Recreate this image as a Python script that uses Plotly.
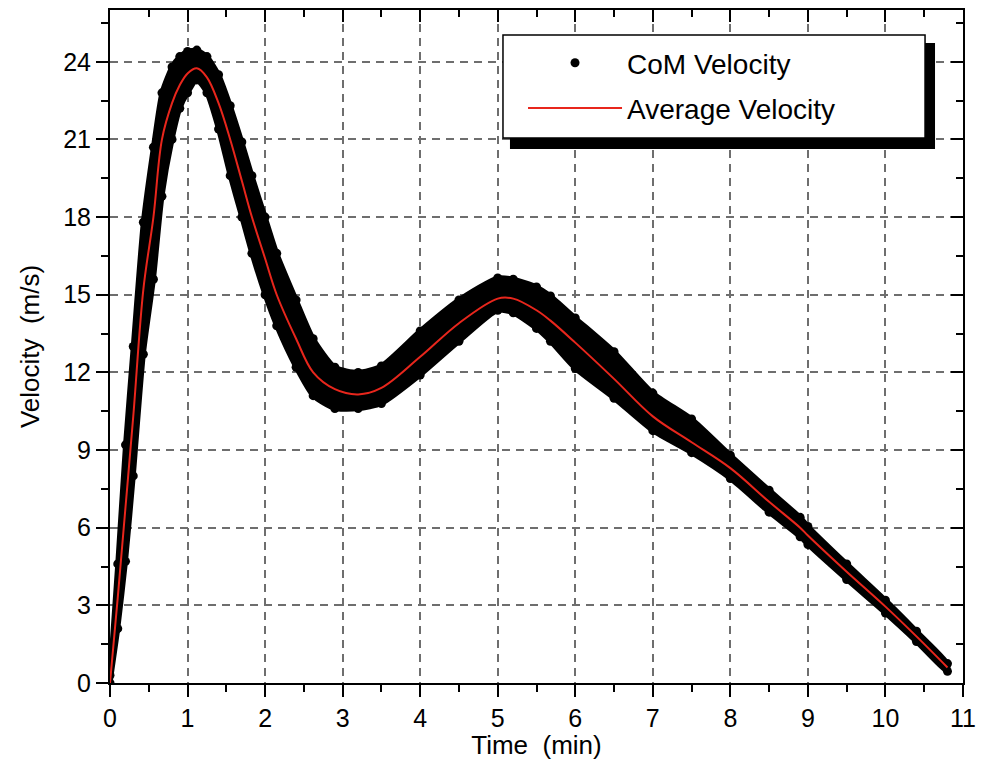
import plotly.graph_objects as go

# time (min) samples
time_min = [0, 0.1, 0.2, 0.3, 0.43, 0.56, 0.67, 0.8, 0.9, 1.0, 1.12, 1.25, 1.4, 1.55,
            1.7, 1.83, 2.0, 2.15, 2.4, 2.62, 2.9, 3.2, 3.5, 4.0, 4.5, 5.0, 5.2, 5.5,
            5.68, 6.0, 6.5, 7.0, 7.5, 8.0, 8.5, 8.9, 9.0, 9.5, 10.0, 10.4, 10.8]

# red average velocity curve (m/s)
avg_velocity = [0, 3.3, 6.8, 10.3, 15.2, 18.0, 21.0, 22.4, 23.1, 23.55, 23.75, 23.4, 22.4,
                21.0, 19.4, 18.0, 16.4, 15.0, 13.3, 12.0, 11.35, 11.15, 11.4, 12.6, 13.9,
                14.85, 14.85, 14.4, 14.0, 13.15, 11.75, 10.3, 9.3, 8.3, 7.0, 6.0, 5.7,
                4.3, 2.95, 1.8, 0.6]

# upper / lower edge of the black CoM velocity scatter band (m/s)
com_upper = [0.3, 4.6, 9.2, 13.0, 17.8, 20.7, 22.8, 23.8, 24.2, 24.4, 24.45, 24.2, 23.5,
             22.3, 20.9, 19.6, 18.0, 16.6, 14.8, 13.3, 12.2, 12.0, 12.25, 13.6, 14.8,
             15.65, 15.6, 15.3, 14.95, 14.1, 12.8, 11.2, 10.2, 8.8, 7.45, 6.4, 6.05,
             4.6, 3.2, 2.0, 0.75]
com_lower = [0, 2.1, 4.7, 8.0, 12.7, 15.6, 18.8, 21.0, 22.2, 22.8, 23.3, 22.8, 21.4,
             19.6, 18.0, 16.6, 15.0, 13.8, 12.2, 11.1, 10.6, 10.6, 10.8, 11.9, 13.2,
             14.4, 14.3, 13.7, 13.2, 12.15, 11.0, 9.75, 8.9, 7.9, 6.6, 5.65, 5.35,
             4.0, 2.7, 1.6, 0.45]

FONT = "Arial, Liberation Sans, sans-serif"
GRID = "#6e6e6e"

fig = go.Figure()

# filled band of scatter points
fig.add_trace(go.Scatter(
    x=time_min + time_min[::-1],
    y=com_upper + com_lower[::-1],
    mode="lines",
    fill="toself",
    fillcolor="black",
    line=dict(color="black", width=5, shape="spline", smoothing=0.6),
    showlegend=False,
    hoverinfo="skip",
))
fig.add_trace(go.Scatter(
    x=time_min + time_min,
    y=com_upper + com_lower,
    mode="markers",
    marker=dict(color="black", size=9),
    name="CoM Velocity",
    legendgroup="a",
))
fig.add_trace(go.Scatter(
    x=time_min,
    y=avg_velocity,
    mode="lines",
    line=dict(color="#e8261c", width=2, shape="spline"),
    name="Average Velocity",
    legendgroup="b",
))
# dummy trace so the mirrored top/right axes are drawn
fig.add_trace(go.Scatter(x=[None], y=[None], xaxis="x2", yaxis="y2", showlegend=False))

axis_common = dict(
    showline=True,
    linecolor="black",
    linewidth=2,
    zeroline=False,
    ticklen=12,
    tickwidth=2,
    tickcolor="black",
    tickfont=dict(size=25, color="black"),
)

fig.update_layout(
    width=973,
    height=752,
    margin=dict(l=102, r=18, t=2, b=77),
    paper_bgcolor="white",
    plot_bgcolor="white",
    font=dict(family=FONT, color="black"),
    xaxis=dict(
        **axis_common,
        range=[0, 11],
        dtick=1,
        ticks="outside",
        showgrid=True,
        gridcolor=GRID,
        gridwidth=1.5,
        griddash="8px,6px",
        minor=dict(dtick=0.5, ticks="outside", ticklen=7, tickwidth=2, tickcolor="black", showgrid=False),
        title=dict(text="Time  (min)", font=dict(size=26), standoff=8),
    ),
    yaxis=dict(
        **axis_common,
        range=[0, 26],
        dtick=3,
        ticks="outside",
        showgrid=True,
        gridcolor=GRID,
        gridwidth=1.5,
        griddash="8px,6px",
        minor=dict(dtick=1.5, ticks="outside", ticklen=7, tickwidth=2, tickcolor="black", showgrid=False),
        title=dict(text="Velocity  (m/s)", font=dict(size=26), standoff=16),
    ),
    xaxis2=dict(
        **axis_common,
        overlaying="x",
        side="top",
        range=[0, 11],
        dtick=1,
        ticks="inside",
        showticklabels=False,
        showgrid=False,
        minor=dict(dtick=0.5, ticks="inside", ticklen=7, tickwidth=2, tickcolor="black"),
    ),
    yaxis2=dict(
        **axis_common,
        overlaying="y",
        side="right",
        range=[0, 26],
        dtick=3,
        ticks="inside",
        showticklabels=False,
        showgrid=False,
        minor=dict(dtick=1.5, ticks="inside", ticklen=7, tickwidth=2, tickcolor="black"),
    ),
    legend=dict(
        x=0.4842,
        y=0.9584,
        xanchor="left",
        yanchor="top",
        bgcolor="rgba(0,0,0,0)",
        borderwidth=0,
        font=dict(size=28, color="black"),
        itemwidth=94,
        traceorder="grouped",
        tracegroupgap=6,
    ),
    shapes=[
        # legend drop shadow and framed box
        dict(type="rect", xref="paper", yref="paper",
             x0=0.4689, x1=0.9672, y0=0.7935, y1=0.951,
             fillcolor="black", line=dict(width=0), layer="above"),
        dict(type="rect", xref="paper", yref="paper",
             x0=0.4607, x1=0.9555, y0=0.8098, y1=0.9629,
             fillcolor="white", line=dict(color="black", width=1.5), layer="above"),
    ],
)

fig.write_html("out.html")
